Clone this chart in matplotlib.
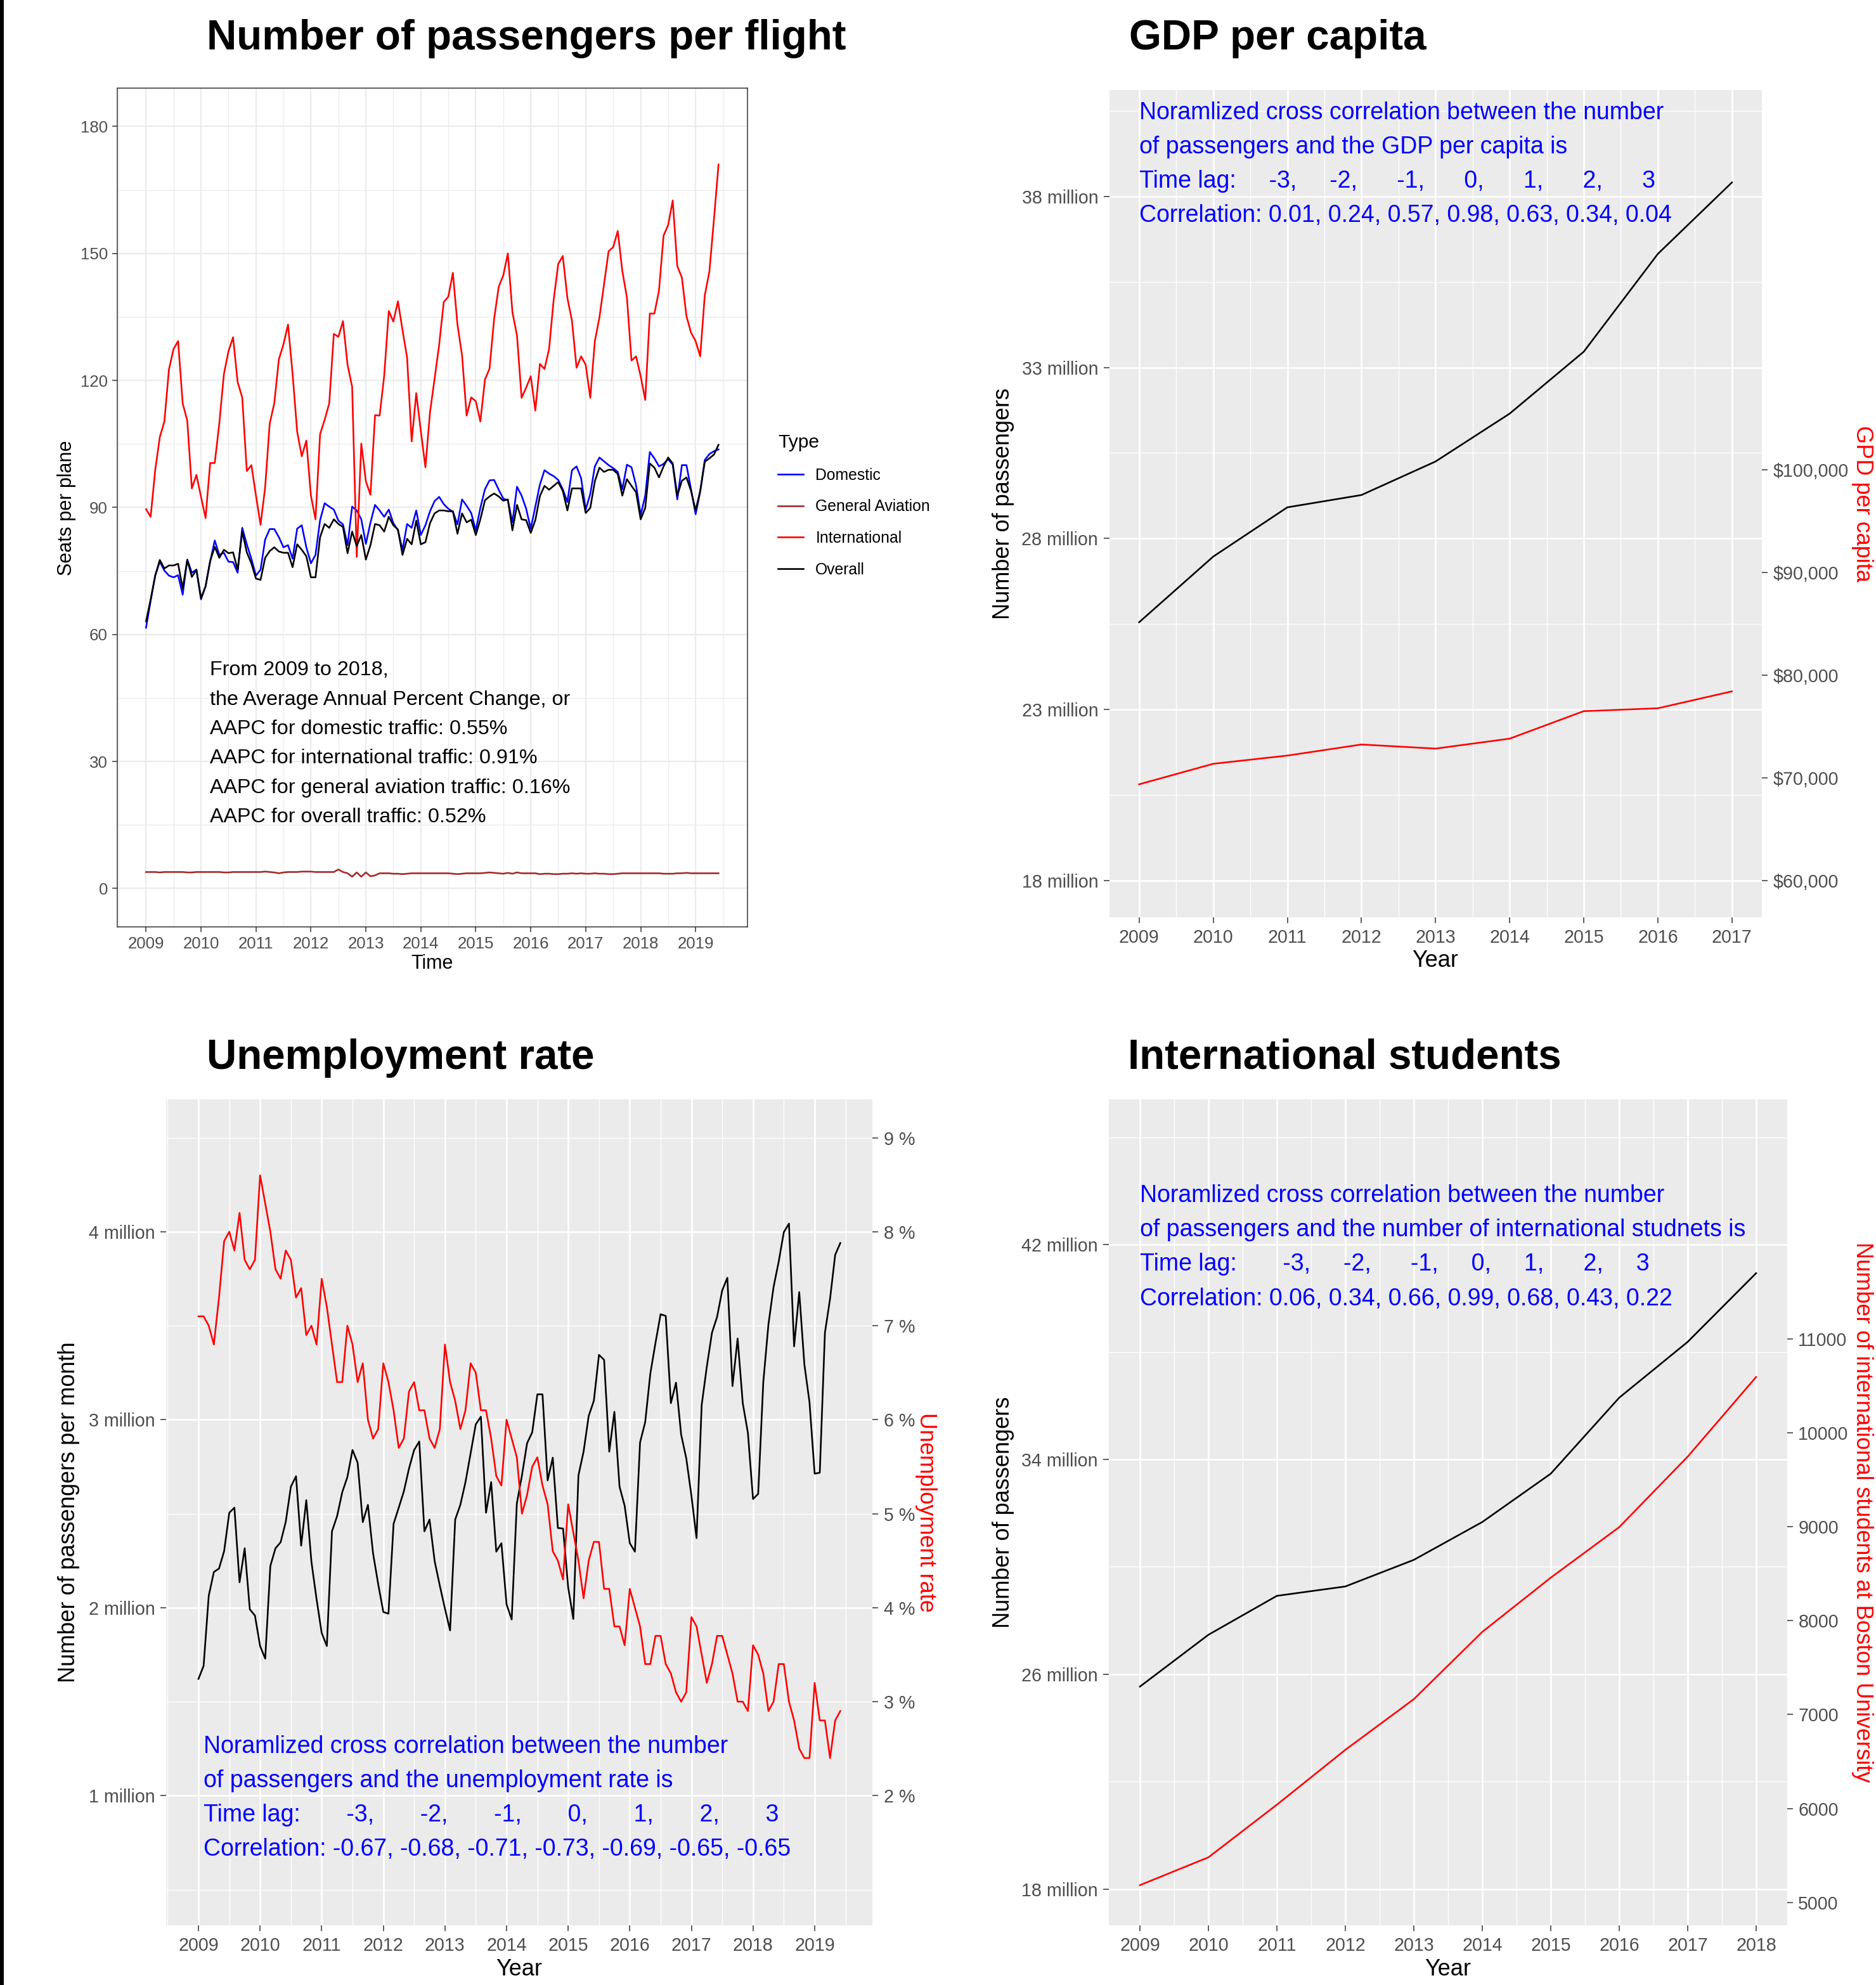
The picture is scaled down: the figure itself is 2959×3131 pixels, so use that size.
import matplotlib
matplotlib.use('Agg')
import matplotlib.pyplot as plt
import matplotlib.transforms as mtransforms
from matplotlib.patches import Rectangle
import numpy as np

plt.rcParams['font.family'] = ['Liberation Sans', 'DejaVu Sans']

# ---------------- DATA ----------------
# Panel 1: seats per plane, monthly Jan 2009 - Jun 2019
domestic = [61.6, 67.9, 73.9, 77.2, 75.1, 73.9, 73.5, 74.0, 69.4, 77.7, 74.6, 75.3,
            68.3, 71.4, 77.2, 82.2, 78.8, 79.3, 77.2, 77.1, 74.6, 85.2, 81.3, 77.9,
            73.9, 75.3, 82.4, 84.9, 84.9, 83.0, 80.6, 81.1, 77.9, 85.0, 85.8, 80.6,
            76.8, 78.8, 87.0, 91.0, 90.2, 89.5, 86.9, 86.0, 81.1, 90.2, 89.3, 87.2,
            81.4, 86.4, 90.6, 89.3, 87.8, 89.5, 86.3, 84.6, 80.0, 86.1, 85.2, 89.3,
            83.5, 85.8, 89.1, 91.5, 92.5, 90.8, 89.7, 89.0, 86.0, 91.9, 90.4, 88.7,
            84.6, 89.9, 94.3, 96.4, 96.5, 94.2, 92.1, 91.7, 86.5, 94.9, 92.8, 89.7,
            85.0, 90.2, 95.4, 98.8, 98.0, 97.4, 96.5, 94.3, 91.3, 98.8, 99.7, 96.9,
            89.5, 93.2, 99.7, 101.8, 100.9, 100.0, 99.3, 98.4, 94.3, 100.1, 99.5, 95.2,
            88.2, 92.8, 103.1, 101.6, 99.7, 100.3, 101.4, 100.1, 91.9, 100.0, 100.0, 94.3,
            88.4, 93.7, 101.2, 102.6, 103.3, 103.7]
general_aviation = [3.9, 3.9, 3.9, 3.8, 3.9, 3.9, 3.9, 3.9, 3.9, 3.8, 3.8, 3.9,
                    3.9, 3.9, 3.9, 3.9, 3.9, 3.8, 3.8, 3.9, 3.9, 3.9, 3.9, 3.9,
                    3.9, 3.9, 4.0, 3.9, 3.8, 3.6, 3.8, 3.9, 3.9, 3.9, 4.0, 4.0,
                    4.0, 3.9, 3.9, 3.9, 3.9, 3.9, 4.5, 3.9, 3.6, 2.8, 3.8, 2.8,
                    3.8, 2.9, 3.1, 3.6, 3.6, 3.6, 3.5, 3.5, 3.4, 3.5, 3.6, 3.6,
                    3.6, 3.6, 3.6, 3.6, 3.6, 3.6, 3.6, 3.5, 3.4, 3.5, 3.6, 3.6,
                    3.6, 3.6, 3.7, 3.8, 3.7, 3.6, 3.5, 3.7, 3.5, 3.8, 3.6, 3.6,
                    3.6, 3.6, 3.4, 3.5, 3.5, 3.4, 3.4, 3.5, 3.5, 3.6, 3.5, 3.6,
                    3.5, 3.5, 3.6, 3.5, 3.5, 3.4, 3.4, 3.5, 3.6, 3.6, 3.6, 3.6,
                    3.6, 3.6, 3.6, 3.6, 3.6, 3.5, 3.5, 3.5, 3.6, 3.6, 3.7, 3.6,
                    3.6, 3.6, 3.6, 3.6, 3.6, 3.6]
international = [89.6, 87.8, 98.8, 106.6, 110.3, 122.6, 127.4, 129.3, 114.6, 110.5, 94.5, 97.7,
                 92.5, 87.5, 100.5, 100.5, 109.9, 121.5, 126.9, 130.2, 119.6, 116.0, 98.6, 100.0,
                 92.8, 85.9, 94.7, 109.8, 114.6, 125.0, 128.5, 133.2, 121.5, 107.9, 102.1, 105.8,
                 92.8, 87.2, 107.3, 110.7, 114.6, 131.0, 130.3, 134.0, 123.7, 118.5, 78.3, 105.1,
                 96.2, 93.0, 111.8, 111.7, 121.1, 136.4, 133.9, 138.7, 131.9, 125.4, 105.6, 117.0,
                 108.0, 99.5, 112.5, 120.4, 128.4, 138.5, 139.8, 145.4, 133.2, 125.9, 111.7, 116.0,
                 115.1, 110.3, 120.2, 122.8, 134.5, 142.1, 144.8, 150.0, 136.1, 130.6, 115.9, 118.3,
                 121.0, 112.9, 123.9, 122.7, 127.4, 139.0, 147.5, 149.4, 139.5, 134.1, 123.0, 125.7,
                 123.7, 115.9, 129.3, 134.9, 142.7, 150.5, 151.5, 155.3, 145.8, 139.6, 124.7, 125.7,
                 121.0, 115.4, 135.8, 135.8, 141.2, 154.2, 156.7, 162.5, 147.0, 144.3, 135.2, 131.3,
                 129.3, 125.7, 140.1, 145.7, 158.0, 171.0]
overall = [63.1, 68.3, 73.9, 77.6, 75.6, 76.3, 76.3, 76.7, 70.9, 77.6, 73.6, 75.3,
           68.6, 71.4, 77.4, 80.7, 78.1, 80.0, 79.2, 79.4, 75.3, 84.3, 79.4, 76.8,
           73.2, 72.9, 78.1, 79.7, 80.6, 79.6, 79.3, 79.3, 75.9, 81.3, 80.0, 78.5,
           73.5, 73.5, 83.0, 86.1, 85.2, 87.2, 86.1, 85.4, 79.2, 84.3, 80.9, 83.5,
           77.7, 81.1, 86.1, 85.8, 84.3, 87.8, 85.8, 84.8, 78.8, 82.6, 81.3, 86.9,
           81.3, 81.8, 86.3, 88.6, 89.3, 89.3, 89.1, 89.1, 83.8, 88.6, 86.5, 87.1,
           83.5, 87.2, 91.7, 92.6, 93.3, 92.6, 91.6, 91.9, 84.6, 90.6, 87.2, 87.0,
           84.0, 87.0, 92.7, 95.1, 94.2, 95.1, 96.0, 93.9, 89.3, 94.5, 94.5, 94.5,
           88.7, 89.9, 96.2, 99.4, 98.4, 98.9, 98.9, 97.9, 92.8, 96.7, 95.1, 93.6,
           87.2, 89.9, 100.4, 99.4, 97.1, 99.7, 101.8, 100.4, 92.8, 96.3, 97.1, 93.9,
           89.3, 93.9, 100.8, 101.6, 102.5, 104.8]
aapc_lines = ["From 2009 to 2018,",
              "the Average Annual Percent Change, or",
              "AAPC for domestic traffic: 0.55%",
              "AAPC for international traffic: 0.91%",
              "AAPC for general aviation traffic: 0.16%",
              "AAPC for overall traffic: 0.52%"]

# Panel 2: yearly passengers vs GDP per capita
gdp_years = [2009, 2010, 2011, 2012, 2013, 2014, 2015, 2016, 2017]
gdp_passengers_m = [25.55, 27.47, 28.91, 29.27, 30.25, 31.65, 33.46, 36.32, 38.41]
gdp_per_capita = [69370, 71370, 72170, 73250, 72850, 73820, 76500, 76780, 78430]
gdp_text = ["Noramlized cross correlation between the number",
            "of passengers and the GDP per capita is",
            "Time lag:     -3,     -2,      -1,      0,      1,      2,      3",
            "Correlation: 0.01, 0.24, 0.57, 0.98, 0.63, 0.34, 0.04"]

# Panel 3: monthly passengers vs unemployment rate
unemp_passengers_m = [1.621, 1.690, 2.063, 2.190, 2.208, 2.301, 2.505, 2.532, 2.135, 2.316, 1.991, 1.958,
                      1.796, 1.729, 2.222, 2.316, 2.348, 2.457, 2.644, 2.699, 2.330, 2.572, 2.244, 2.045,
                      1.865, 1.796, 2.406, 2.487, 2.614, 2.695, 2.839, 2.771, 2.455, 2.547, 2.289, 2.126,
                      1.977, 1.968, 2.446, 2.532, 2.619, 2.740, 2.839, 2.884, 2.406, 2.469, 2.247, 2.117,
                      1.995, 1.879, 2.469, 2.547, 2.668, 2.821, 2.975, 3.016, 2.505, 2.668, 2.298, 2.343,
                      2.018, 1.937, 2.554, 2.704, 2.875, 2.933, 3.135, 3.135, 2.677, 2.798, 2.424, 2.421,
                      2.108, 1.940, 2.704, 2.830, 3.020, 3.101, 3.345, 3.318, 2.830, 3.042, 2.644, 2.542,
                      2.343, 2.298, 2.879, 2.987, 3.245, 3.408, 3.561, 3.552, 3.088, 3.197, 2.921, 2.794,
                      2.596, 2.370, 3.078, 3.282, 3.462, 3.547, 3.688, 3.755, 3.179, 3.432, 3.088, 2.930,
                      2.578, 2.605, 3.200, 3.507, 3.706, 3.841, 3.998, 4.043, 3.390, 3.679, 3.294, 3.092,
                      2.713, 2.718, 3.462, 3.643, 3.877, 3.940]
unemployment_rate = [7.1, 7.1, 7.0, 6.8, 7.3, 7.9, 8.0, 7.8, 8.2, 7.7, 7.6, 7.7,
                     8.6, 8.3, 8.0, 7.6, 7.5, 7.8, 7.7, 7.3, 7.4, 6.9, 7.0, 6.8,
                     7.5, 7.2, 6.8, 6.4, 6.4, 7.0, 6.8, 6.4, 6.6, 6.0, 5.8, 5.9,
                     6.6, 6.4, 6.1, 5.7, 5.8, 6.3, 6.4, 6.1, 6.1, 5.8, 5.7, 5.9,
                     6.8, 6.4, 6.2, 5.9, 6.1, 6.6, 6.5, 6.1, 6.1, 5.8, 5.4, 5.3,
                     6.0, 5.8, 5.6, 5.0, 5.2, 5.5, 5.6, 5.3, 5.1, 4.6, 4.5, 4.3,
                     5.1, 4.8, 4.5, 4.1, 4.5, 4.7, 4.7, 4.2, 4.2, 3.8, 3.8, 3.6,
                     4.2, 4.0, 3.8, 3.4, 3.4, 3.7, 3.7, 3.4, 3.3, 3.1, 3.0, 3.1,
                     3.9, 3.8, 3.5, 3.2, 3.4, 3.7, 3.7, 3.5, 3.3, 3.0, 3.0, 2.9,
                     3.6, 3.5, 3.3, 2.9, 3.0, 3.4, 3.4, 3.0, 2.8, 2.5, 2.4, 2.4,
                     3.2, 2.8, 2.8, 2.4, 2.8, 2.9]
unemp_text = ["Noramlized cross correlation between the number",
              "of passengers and the unemployment rate is",
              "Time lag:       -3,       -2,       -1,       0,       1,       2,       3",
              "Correlation: -0.67, -0.68, -0.71, -0.73, -0.69, -0.65, -0.65"]

# Panel 4: yearly passengers vs international students
stu_years = [2009, 2010, 2011, 2012, 2013, 2014, 2015, 2016, 2017, 2018]
stu_passengers_m = [25.54, 27.47, 28.92, 29.27, 30.26, 31.67, 33.47, 36.30, 38.38, 40.94]
intl_students = [5184, 5480, 6040, 6624, 7163, 7879, 8456, 8994, 9744, 10592]
stu_text = ["Noramlized cross correlation between the number",
            "of passengers and the number of international studnets is",
            "Time lag:       -3,     -2,      -1,     0,     1,      2,     3",
            "Correlation: 0.06, 0.34, 0.66, 0.99, 0.68, 0.43, 0.22"]

# ---------------- FIGURE ----------------
W, H = 2959, 3131
DPI = 200
PT = 72.0 / DPI
fig = plt.figure(figsize=(W / DPI, H / DPI), dpi=DPI)
fig.patch.set_facecolor('white')
fig.add_artist(Rectangle((0, 0), 6.0 / W, 1, transform=fig.transFigure,
                         facecolor='black', edgecolor='none'))


def add_ax(left, top, right, bottom):
    return fig.add_axes([left / W, 1 - bottom / H, (right - left) / W, (bottom - top) / H])


def px_to_axes(ax, x, y):
    b = ax.get_position()
    return ((x / W - b.x0) / b.width, ((1 - y / H) - b.y0) / b.height)


def place_label(axis, ax, x, y):
    axis.set_label_coords(*px_to_axes(ax, x, y))
    axis.label.set_va('center')
    axis.label.set_ha('center')


def text_block(ax, x, yc, lines, fontsize_pt, spacing_px, color):
    n = len(lines)
    fpx = fontsize_pt / PT
    for k, line in enumerate(lines):
        off = (((n - 1) / 2.0 - k) * spacing_px - 0.358 * fpx) * PT
        tr = mtransforms.offset_copy(ax.transData, fig=fig, x=0, y=off, units='points')
        ax.text(x, yc, line, transform=tr, ha='left', va='baseline',
                fontsize=fontsize_pt, color=color)


TITLE_FS = 23.6
GREY30 = '#4D4D4D'
GREY20 = '#333333'
LW = 0.95

fig.text(326 / W, 1 - 78 / H, 'Number of passengers per flight', fontsize=TITLE_FS,
         fontweight='bold', ha='left', va='baseline')
fig.text(1781 / W, 1 - 78 / H, 'GDP per capita', fontsize=TITLE_FS,
         fontweight='bold', ha='left', va='baseline')
fig.text(326 / W, 1 - 1686 / H, 'Unemployment rate', fontsize=TITLE_FS,
         fontweight='bold', ha='left', va='baseline')
fig.text(1779 / W, 1 - 1686 / H, 'International students', fontsize=TITLE_FS,
         fontweight='bold', ha='left', va='baseline')

# ---------- Panel 1 (theme_bw) ----------
t_month = 2009 + np.arange(len(domestic)) / 12.0
ax1 = add_ax(185.2, 139.3, 1178.5, 1461.6)
l_dom, = ax1.plot(t_month, domestic, color='#0000FF', lw=LW, label='Domestic')
l_ga, = ax1.plot(t_month, general_aviation, color='#A52A2A', lw=LW, label='General Aviation')
l_int, = ax1.plot(t_month, international, color='#FF0000', lw=LW, label='International')
l_all, = ax1.plot(t_month, overall, color='black', lw=LW, label='Overall')
ax1.set_xlim(2008.479, 2019.938)
ax1.set_ylim(-9, 189)
ax1.set_xticks(list(range(2009, 2020)), [str(y) for y in range(2009, 2020)])
ax1.set_xticks([y + 0.5 for y in range(2008, 2020)], minor=True)
ax1.set_yticks([0, 30, 60, 90, 120, 150, 180], ['0', '30', '60', '90', '120', '150', '180'])
ax1.set_yticks([15, 45, 75, 105, 135, 165], minor=True)
ax1.set_axisbelow(True)
ax1.grid(which='major', color='#EBEBEB', lw=0.8)
ax1.grid(which='minor', color='#EBEBEB', lw=0.45)
for s in ax1.spines.values():
    s.set_color(GREY20)
    s.set_linewidth(0.55)
ax1.tick_params(which='major', length=2.8, width=0.55, color=GREY20, labelcolor=GREY30,
                labelsize=9.3, pad=2.7)
ax1.tick_params(which='minor', length=0)
ax1.set_xlabel('Time', fontsize=11)
ax1.set_ylabel('Seats per plane', fontsize=11)
place_label(ax1.xaxis, ax1, 681.9, 1520.5)
place_label(ax1.yaxis, ax1, 105, 801)
text_block(ax1, 2010.16, 34.7, aapc_lines, 11.6, 46.4, 'black')
ax1.legend(handles=[l_dom, l_ga, l_int, l_all], title='Type', loc='upper left',
           bbox_to_anchor=(1227 / W, 1 - 684 / H), bbox_transform=fig.transFigure,
           frameon=False, fontsize=8.9, title_fontsize=10.8, handlelength=1.6,
           handletextpad=0.8, labelspacing=1.04, borderpad=0, borderaxespad=0,
           alignment='left')


def gray_panel(ax, grid_major=1.0, grid_minor=0.5):
    ax.set_facecolor('#EBEBEB')
    for s in ax.spines.values():
        s.set_visible(False)
    ax.set_axisbelow(True)
    ax.grid(which='major', color='white', lw=grid_major)
    ax.grid(which='minor', color='white', lw=grid_minor)
    ax.tick_params(which='major', length=3.4, width=0.55, color=GREY20, labelcolor=GREY30,
                   labelsize=10.3, pad=3.0)
    ax.tick_params(which='minor', length=0)


def twin_setup(ax2):
    for s in ax2.spines.values():
        s.set_visible(False)
    ax2.grid(False)
    ax2.tick_params(which='major', length=3.4, width=0.55, color=GREY20, labelcolor=GREY30,
                    labelsize=10.3, pad=3.0)
    ax2.tick_params(which='minor', length=0)


# ---------- Panel 2: GDP ----------
ax2 = add_ax(1750, 141.6, 2778.5, 1447)
gray_panel(ax2)
ax2.plot(gdp_years, np.array(gdp_passengers_m) * 1e6, color='black', lw=LW)
ax2.set_xlim(2008.6, 2017.4)
ax2.set_ylim(16.92e6, 41.12e6)
ax2.set_xticks(gdp_years, [str(y) for y in gdp_years])
ax2.set_xticks([y + 0.5 for y in gdp_years[:-1]], minor=True)
ax2.set_yticks([v * 1e6 for v in [18, 23, 28, 33, 38]],
               ['%d million' % v for v in [18, 23, 28, 33, 38]])
ax2.set_yticks([v * 1e6 for v in [20.5, 25.5, 30.5, 35.5, 40.5]], minor=True)
ax2.set_xlabel('Year', fontsize=13)
ax2.set_ylabel('Number of passengers', fontsize=13)
place_label(ax2.xaxis, ax2, 2264, 1515)
place_label(ax2.yaxis, ax2, 1582, 794)
text_block(ax2, 2009, 39.0e6, gdp_text, 13.5, 54.0, '#0000FF')
ax2b = ax2.twinx()
twin_setup(ax2b)
ax2b.plot(gdp_years, gdp_per_capita, color='#FF0000', lw=LW)
ax2b.set_ylim(16.92e6 / 300, 41.12e6 / 300)
ax2b.set_yticks([60000, 70000, 80000, 90000, 100000],
                ['${:,}'.format(v) for v in [60000, 70000, 80000, 90000, 100000]])
ax2b.set_ylabel('GPD per capita', fontsize=13, color='#FF0000', rotation=-90)
place_label(ax2b.yaxis, ax2b, 2937.6, 794)

# ---------- Panel 3: Unemployment ----------
ax3 = add_ax(262.4, 1733.8, 1376.1, 3037.2)
gray_panel(ax3)
t_u = 2009 + np.arange(len(unemp_passengers_m)) / 12.0
ax3.plot(t_u, np.array(unemp_passengers_m) * 1e6, color='black', lw=LW)
ax3.set_xlim(2008.479, 2019.938)
ax3.set_ylim(0.309e6, 4.705e6)
ax3.set_xticks(list(range(2009, 2020)), [str(y) for y in range(2009, 2020)])
ax3.set_xticks([y + 0.5 for y in range(2008, 2020)], minor=True)
ax3.set_yticks([1e6, 2e6, 3e6, 4e6], ['1 million', '2 million', '3 million', '4 million'])
ax3.set_yticks([0.5e6, 1.5e6, 2.5e6, 3.5e6, 4.5e6], minor=True)
ax3.set_xlabel('Year', fontsize=13)
ax3.set_ylabel('Number of passengers per month', fontsize=13)
place_label(ax3.xaxis, ax3, 819, 3107)
place_label(ax3.yaxis, ax3, 108.5, 2385)
text_block(ax3, 2009.08, 1.0e6, unemp_text, 13.5, 54.0, '#0000FF')
ax3b = ax3.twinx()
twin_setup(ax3b)
ax3b.plot(t_u, unemployment_rate, color='#FF0000', lw=LW)
ax3b.set_ylim(0.309e6 / 5e5, 4.705e6 / 5e5)
ax3b.set_yticks([2, 3, 4, 5, 6, 7, 8, 9], ['%d %%' % v for v in [2, 3, 4, 5, 6, 7, 8, 9]])
ax3b.set_ylabel('Unemployment rate', fontsize=13, color='#FF0000', rotation=-90)
place_label(ax3b.yaxis, ax3b, 1461, 2385)

# ---------- Panel 4: International students ----------
ax4 = add_ax(1749.4, 1733.8, 2818.5, 3037.2)
gray_panel(ax4)
ax4.plot(stu_years, np.array(stu_passengers_m) * 1e6, color='black', lw=LW)
ax4.set_xlim(2008.55, 2018.45)
ax4.set_ylim(16.64e6, 47.42e6)
ax4.set_xticks(stu_years, [str(y) for y in stu_years])
ax4.set_xticks([y + 0.5 for y in stu_years[:-1]], minor=True)
ax4.set_yticks([v * 1e6 for v in [18, 26, 34, 42]],
               ['%d million' % v for v in [18, 26, 34, 42]])
ax4.set_yticks([v * 1e6 for v in [22, 30, 38, 46]], minor=True)
ax4.set_xlabel('Year', fontsize=13)
ax4.set_ylabel('Number of passengers', fontsize=13)
place_label(ax4.xaxis, ax4, 2284, 3107)
place_label(ax4.yaxis, ax4, 1582, 2385)
text_block(ax4, 2009, 41.99e6, stu_text, 13.5, 54.3, '#0000FF')
ax4b = ax4.twinx()
twin_setup(ax4b)
ax4b.plot(stu_years, intl_students, color='#FF0000', lw=LW)
ax4b.set_ylim(16.64e6 / 3500, 47.42e6 / 3500)
ax4b.set_yticks(list(range(5000, 11001, 1000)), [str(v) for v in range(5000, 11001, 1000)])
ax4b.set_ylabel('Number of international students at Boston University', fontsize=13,
                color='#FF0000', rotation=-90)
place_label(ax4b.yaxis, ax4b, 2937.6, 2385)

fig.savefig('out.png', dpi=DPI, facecolor='white')
